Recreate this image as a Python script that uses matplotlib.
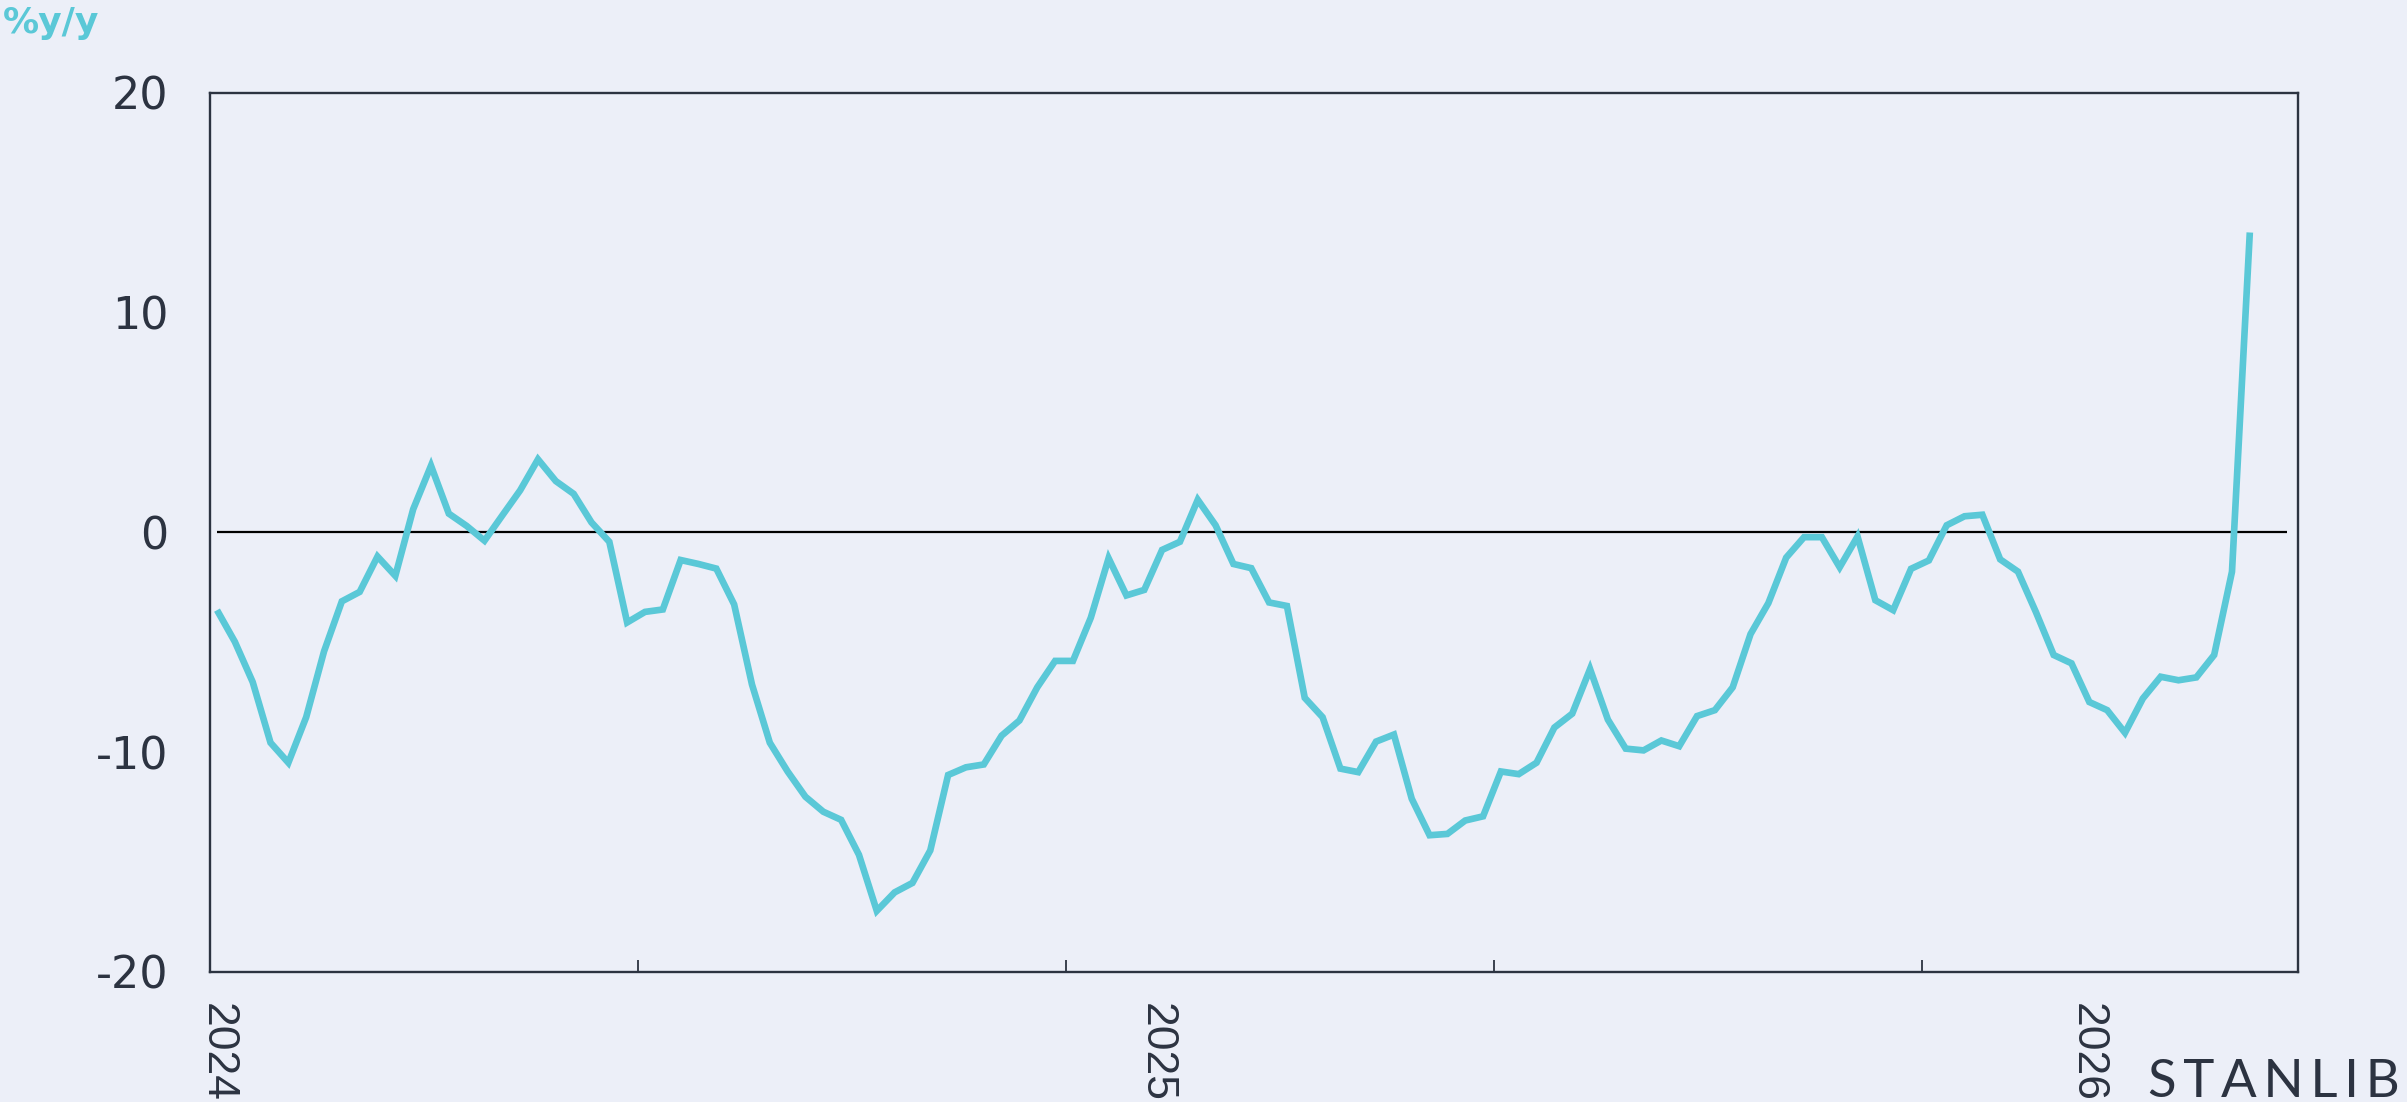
import numpy as np
import matplotlib
matplotlib.use("Agg")
import matplotlib.pyplot as plt
from matplotlib import font_manager
from matplotlib.ticker import FixedLocator, NullFormatter

plt.rcParams['font.family'] = ['Liberation Sans', 'DejaVu Sans']
plt.rcParams['axes.unicode_minus'] = False

# ---- data (weekly, %y/y) ----
values = [
    -3.54, -4.98, -6.81, -9.57, -10.48, -8.41, -5.42, -3.14, -2.71, -1.10,
    -1.98, 1.05, 3.03, 0.85, 0.29, -0.38, 0.77, 1.91, 3.32, 2.33,
    1.75, 0.45, -0.43, -4.10, -3.62, -3.51, -1.26, -1.44, -1.65, -3.28,
    -6.92, -9.57, -10.88, -12.03, -12.71, -13.08, -14.67, -17.22, -16.38, -15.95,
    -14.47, -11.04, -10.69, -10.56, -9.25, -8.56, -7.05, -5.85, -5.85, -3.89,
    -1.18, -2.87, -2.62, -0.80, -0.43, 1.48, 0.32, -1.44, -1.63, -3.19,
    -3.35, -7.53, -8.41, -10.75, -10.91, -9.52, -9.20, -12.12, -13.78, -13.72,
    -13.11, -12.92, -10.88, -11.00, -10.48, -8.88, -8.25, -6.22, -8.52, -9.84,
    -9.92, -9.47, -9.73, -8.36, -8.09, -7.05, -4.63, -3.22, -1.15, -0.22,
    -0.22, -1.59, -0.19, -3.09, -3.54, -1.66, -1.28, 0.32, 0.73, 0.80,
    -1.23, -1.79, -3.62, -5.58, -5.96, -7.72, -8.09, -9.12, -7.56, -6.57,
    -6.73, -6.60, -5.58, -1.79, 13.64,
]
year_labels = ["2024", "2025", "2026"]
year_label_index = [0, 52.7, 104.9]
y_ticks = [-20, -10, 0, 10, 20]

BG = "#ECEFF8"
LINE = "#5AC8D7"
DARK = "#2C3341"

installed = {f.name for f in font_manager.fontManager.ttflist}
if "Liberation Sans Narrow" in installed:
    year_family, year_size = ["Liberation Sans Narrow", "DejaVu Sans"], 36
else:
    year_family, year_size = ["Liberation Sans", "DejaVu Sans"], 32
logo_family = ["Lato", "DejaVu Sans"] if "Lato" in installed else ["Liberation Sans", "DejaVu Sans"]

x = np.arange(len(values))

fig = plt.figure(figsize=(24.07, 11.02), dpi=100, facecolor=BG)
ax = fig.add_axes([0.0872, 0.1180, 0.8675, 0.7979])
ax.set_facecolor(BG)

ax.hlines(0, x[0], 116.1, color="black", lw=1.6, zorder=2)
ax.plot(x, values, color=LINE, lw=4.8, solid_joinstyle="miter",
        solid_capstyle="butt", zorder=3)

xmin, xmax = -0.4, 116.7
ax.set_xlim(xmin, xmax)
ax.set_ylim(-20, 20)

ax.xaxis.set_major_locator(FixedLocator([xmin + 24 * k for k in range(5)]))
ax.xaxis.set_major_formatter(NullFormatter())
ax.set_xticks(year_label_index, minor=True)
ax.set_xticklabels(year_labels, minor=True, rotation=270, fontsize=year_size,
                   color=DARK, va="top", ha="center", family=year_family)
ax.tick_params(axis="x", which="major", direction="in", length=9,
               width=1.3, color=DARK)
ax.tick_params(axis="x", which="minor", length=0, pad=22)

ax.set_yticks(y_ticks)
ax.set_yticklabels([str(v) for v in y_ticks], family=["DejaVu Sans"],
                   fontsize=32, color=DARK)
ax.tick_params(axis="y", length=0, pad=30)

for s in ax.spines.values():
    s.set_color(DARK)
    s.set_linewidth(1.7)

fig.text(0.0012, 0.995, "%y/y", color=LINE, fontsize=26, fontweight="bold",
         ha="left", va="top", family=["DejaVu Sans"])
fig.text(0.997, 0.0045, "S\u2009T\u2009A\u2009N\u2009L\u2009I\u2009B",
         color=DARK, fontsize=38, ha="right", va="baseline", family=logo_family)

fig.savefig("out.png", dpi=100, facecolor=BG)
